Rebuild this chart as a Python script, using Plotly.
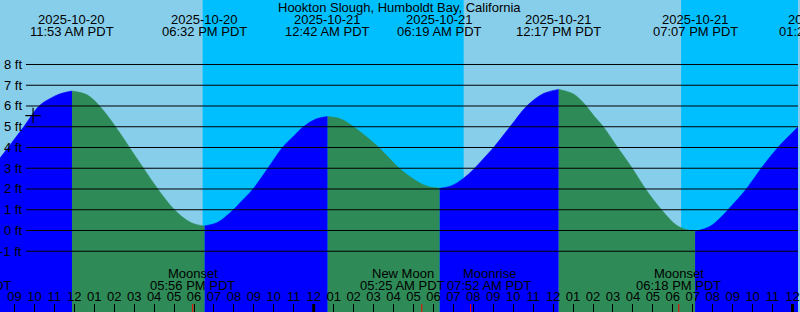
import pandas as pd
import plotly.graph_objects as go

# ---------------- data ----------------
title = "Hookton Slough, Humboldt Bay, California"

x_start = "2025-10-20 08:16:30"
x_end = "2025-10-22 00:16:30"
y_min, y_max = -3.928, 11.108

# tide extremes (high / low) with their times
tide_times = ["2025-10-20 11:53", "2025-10-20 18:32", "2025-10-21 00:42",
              "2025-10-21 06:19", "2025-10-21 12:17", "2025-10-21 19:07",
              "2025-10-22 01:28"]
tide_heights = [6.72, 0.22, 5.49, 2.03, 6.80, -0.05, 5.6]

# tide curve (ft)
curve_times = [
    "2025-10-20 08:16:30", "2025-10-20 08:41", "2025-10-20 09:28", "2025-10-20 10:14",
    "2025-10-20 10:46", "2025-10-20 11:16", "2025-10-20 11:53", "2025-10-20 12:37",
    "2025-10-20 13:16", "2025-10-20 14:04", "2025-10-20 14:46", "2025-10-20 15:28",
    "2025-10-20 16:11", "2025-10-20 17:01", "2025-10-20 17:46", "2025-10-20 18:09",
    "2025-10-20 18:32", "2025-10-20 19:10", "2025-10-20 19:55", "2025-10-20 20:25",
    "2025-10-20 20:55", "2025-10-20 21:40", "2025-10-20 22:26", "2025-10-20 22:58",
    "2025-10-20 23:29", "2025-10-21 00:07", "2025-10-21 00:42", "2025-10-21 01:19",
    "2025-10-21 01:56", "2025-10-21 02:36", "2025-10-21 03:16", "2025-10-21 03:46",
    "2025-10-21 04:16", "2025-10-21 05:01", "2025-10-21 05:40", "2025-10-21 06:19",
    "2025-10-21 06:55", "2025-10-21 07:31", "2025-10-21 08:01", "2025-10-21 08:31",
    "2025-10-21 09:01", "2025-10-21 09:52", "2025-10-21 10:41", "2025-10-21 11:31",
    "2025-10-21 12:17", "2025-10-21 13:01", "2025-10-21 13:37", "2025-10-21 14:04",
    "2025-10-21 14:31", "2025-10-21 15:14", "2025-10-21 15:58", "2025-10-21 16:38",
    "2025-10-21 17:26", "2025-10-21 18:16", "2025-10-21 19:07", "2025-10-21 19:52",
    "2025-10-21 20:19", "2025-10-21 20:46", "2025-10-21 21:41", "2025-10-21 22:26",
    "2025-10-21 23:16", "2025-10-21 23:46", "2025-10-22 00:30",
]
curve_ft = [
    3.49, 4.0, 5.0, 6.0,
    6.35, 6.58, 6.72, 6.55,
    6.0, 5.0, 4.0, 3.0,
    2.0, 1.0, 0.42, 0.28,
    0.22, 0.38, 0.95, 1.45,
    1.95, 2.95, 4.0, 4.52,
    5.0, 5.37, 5.49, 5.39,
    5.05, 4.55, 4.0, 3.5,
    3.02, 2.47, 2.14, 2.03,
    2.16, 2.52, 2.95, 3.47,
    4.0, 5.03, 6.0, 6.6,
    6.80, 6.58, 6.05, 5.5,
    5.0, 4.0, 3.0, 2.0,
    1.0, 0.2, -0.05, 0.2,
    0.55, 1.0, 2.0, 3.0,
    4.0, 4.5, 5.2,
]

sunset_times = ["2025-10-20 18:26", "2025-10-21 18:25"]
sunrise_times = ["2025-10-21 07:31", "2025-10-22 07:32"]

moon_names = ["Moonrise", "Moonset", "New Moon", "Moonrise", "Moonset"]
moon_times = ["2025-10-20 06:46", "2025-10-20 17:56", "2025-10-21 05:25",
              "2025-10-21 07:52", "2025-10-21 18:18"]

midnight_times = ["2025-10-21 00:00", "2025-10-22 00:00"]

level_ft = [8, 7, 6, 5, 4, 3, 2, 1, 0, -1]

now_time = "2025-10-20 09:56"
now_ft = 5.54

# ---------------- styling ----------------
W, H = 800, 312
DAY = "#87CEEB"
NIGHT = "#00BFFF"
RISE = "#0000FF"
FALL = "#2E8B57"
FONT = "Liberation Sans, Arial, sans-serif"
FS = 13
moon_label_shift = [0, 0, -19, 18.5, 0]


def py(pix):
    return 1 - pix / H


t0 = pd.Timestamp(x_start)
t1 = pd.Timestamp(x_end)


def xpos(t):
    t = pd.Timestamp(t)
    if t0 <= t <= t1:
        return "x", t
    return "paper", (t - t0) / (t1 - t0)


fig = go.Figure()

# tide curve, split at extremes into rising (blue) / falling (green) parts
ct = [pd.Timestamp(t) for t in curve_times]
ext = set(pd.Timestamp(t) for t in tide_times)
breaks = [0] + [i for i, t in enumerate(ct) if t in ext] + [len(ct) - 1]
breaks = sorted(set(breaks))
for a, b in zip(breaks[:-1], breaks[1:]):
    seg_t = ct[a:b + 1]
    seg_h = curve_ft[a:b + 1]
    col = RISE if seg_h[-1] > seg_h[0] else FALL
    fig.add_trace(go.Scatter(x=[seg_t[0], seg_t[-1]], y=[y_min - 3] * 2,
                             mode="lines", line=dict(width=0),
                             hoverinfo="skip", showlegend=False))
    fig.add_trace(go.Scatter(x=seg_t, y=seg_h, mode="lines",
                             line=dict(color=col, width=0.6, shape="spline"),
                             fill="tonexty", fillcolor=col,
                             hoverinfo="skip", showlegend=False))

# "now" marker
fig.add_trace(go.Scatter(x=[now_time], y=[now_ft], mode="markers",
                         marker=dict(symbol="cross-thin", size=11,
                                     line=dict(width=1.2, color="black")),
                         hoverinfo="skip", showlegend=False))

shapes = []
# night backgrounds
for s, r in zip(sunset_times, sunrise_times):
    shapes.append(dict(type="rect", xref="x", yref="paper", x0=s, x1=r,
                       y0=0, y1=1, fillcolor=NIGHT, line=dict(width=0),
                       layer="below"))
# level lines
for v in level_ft:
    shapes.append(dict(type="line", xref="paper", yref="y", x0=26 / W, x1=1,
                       y0=v, y1=v, line=dict(color="black", width=1),
                       layer="above"))
# midnight ticks
for m in midnight_times:
    shapes.append(dict(type="line", xref="x", yref="paper", x0=m, x1=m,
                       y0=0, y1=8 / H, line=dict(color="black", width=3)))
# moon event ticks
for m in moon_times:
    shapes.append(dict(type="line", xref="x", yref="paper", x0=m, x1=m,
                       y0=0, y1=8 / H, line=dict(color="red", width=1)))

ann = []
font = dict(family=FONT, size=FS, color="black")
ann.append(dict(text=title, xref="paper", yref="paper", x=0.5, y=py(7.5),
                xanchor="center", yanchor="middle", showarrow=False, font=font))
for v in level_ft:
    ann.append(dict(text=f"{v} ft", xref="paper", yref="y", x=24.5 / W, y=v,
                    xanchor="right", yanchor="middle", showarrow=False,
                    font=font))
for t in tide_times:
    ts = pd.Timestamp(t)
    xr, xv = xpos(ts)
    ann.append(dict(text=ts.strftime("%Y-%m-%d"), xref=xr, yref="paper",
                    x=xv, y=py(19.5), xanchor="center", yanchor="middle",
                    showarrow=False, font=font))
    ann.append(dict(text=ts.strftime("%I:%M %p PDT"), xref=xr, yref="paper",
                    x=xv, y=py(31.5), xanchor="center", yanchor="middle",
                    showarrow=False, font=font))
for name, t, sh in zip(moon_names, moon_times, moon_label_shift):
    ts = pd.Timestamp(t)
    xr, xv = xpos(ts)
    ann.append(dict(text=name, xref=xr, yref="paper", x=xv, y=py(273.5),
                    xanchor="center", yanchor="middle", xshift=sh,
                    showarrow=False, font=font))
    ann.append(dict(text=ts.strftime("%I:%M %p PDT"), xref=xr, yref="paper",
                    x=xv, y=py(285.5), xanchor="center", yanchor="middle",
                    xshift=sh, showarrow=False, font=font))

fig.update_layout(
    width=W, height=H, margin=dict(l=0, r=0, t=0, b=0, pad=0),
    paper_bgcolor=DAY, plot_bgcolor=DAY, showlegend=False,
    shapes=shapes, annotations=ann,
    xaxis=dict(type="date", range=[x_start, x_end], showgrid=False,
               zeroline=False, showline=False, ticks="inside", ticklen=8,
               tickwidth=1, tickcolor="black", tick0="2025-10-20 00:00",
               dtick=3600000, tickformat="%I", ticklabelposition="inside",
               ticklabeloverflow="allow",
               tickfont=dict(family=FONT, size=FS, color="black"),
               fixedrange=True),
    yaxis=dict(range=[y_min, y_max], showgrid=False, zeroline=False,
               showticklabels=False, ticks="", fixedrange=True),
)

fig.write_html("out.html", config={"displayModeBar": False})
